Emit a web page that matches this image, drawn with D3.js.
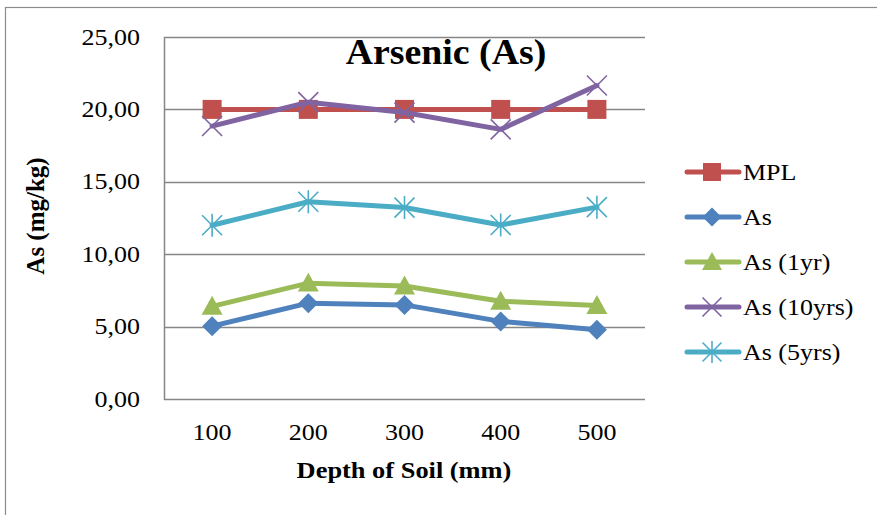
<!DOCTYPE html>
<html>
<head>
<meta charset="utf-8">
<script src="https://cdn.jsdelivr.net/npm/d3@7"></script>
<style>
  html, body { margin: 0; padding: 0; background: #fff; }
  svg text { font-family: "Liberation Serif", "Times New Roman", serif; fill: #000; }
</style>
</head>
<body>
<svg id="chart" width="877" height="515"></svg>
<script>
// Soil depth categories (mm)
const depths = ["100", "200", "300", "400", "500"];
// Arsenic concentration series (mg/kg)
const mpl      = [20.00, 20.00, 20.00, 20.00, 20.00];
const asNow    = [5.03, 6.62, 6.50, 5.36, 4.78];
const as1yr    = [6.40, 8.00, 7.80, 6.75, 6.45];
const as10yrs  = [18.85, 20.50, 19.78, 18.62, 21.65];
const as5yrs   = [12.00, 13.62, 13.22, 12.02, 13.25];
const yTicks   = [0, 5, 10, 15, 20, 25];

const series = [
  { name: "MPL",         values: mpl,     color: "#C0504D", marker: "square" },
  { name: "As",          values: asNow,   color: "#4F81BD", marker: "diamond" },
  { name: "As (1yr)",    values: as1yr,   color: "#9BBB59", marker: "triangle" },
  { name: "As (10yrs)",  values: as10yrs, color: "#8064A2", marker: "x" },
  { name: "As (5yrs)",   values: as5yrs,  color: "#4BACC6", marker: "star" }
];

const svg = d3.select("#chart");
const plotL = 164, plotR = 645, plotT = 37, plotB = 399;
const SX = 1.13; // horizontal widening applied to regular text

const x = d3.scaleBand().domain(depths).range([plotL, plotR]);
const y = d3.scaleLinear().domain([0, 25]).range([plotB, plotT]);
const fmt = v => d3.format(".2f")(v).replace(".", ",");

// Text placed at (tx, ty) with an optional horizontal stretch
function label(parent, tx, ty, str, opts) {
  const o = Object.assign({ size: 23, anchor: "start", weight: "normal", sx: SX, rotate: 0, dy: "0" }, opts);
  const tr = o.rotate
    ? `translate(${tx},${ty}) rotate(${o.rotate}) scale(1,${o.sx})`
    : `translate(${tx},${ty}) scale(${o.sx},1)`;
  return parent.append("text").attr("transform", tr)
    .attr("text-anchor", o.anchor).attr("font-size", o.size)
    .attr("font-weight", o.weight).attr("dy", o.dy).text(str);
}

// Outer chart frame
svg.append("rect").attr("x", 5.5).attr("y", 7.5).attr("width", 900).attr("height", 520)
  .attr("fill", "none").attr("stroke", "#8c8c8c").attr("stroke-width", 1.2);

// Horizontal gridlines
svg.append("g").selectAll("line").data(yTicks).join("line")
  .attr("x1", plotL).attr("x2", plotR)
  .attr("y1", d => Math.round(y(d)) + 0.5).attr("y2", d => Math.round(y(d)) + 0.5)
  .attr("stroke", "#868686").attr("stroke-width", 1.5);

// Y axis line
svg.append("line").attr("x1", plotL + 0.5).attr("x2", plotL + 0.5)
  .attr("y1", plotT).attr("y2", plotB + 1)
  .attr("stroke", "#868686").attr("stroke-width", 1.5);

// Y tick labels
const gy = svg.append("g");
yTicks.forEach(t => label(gy, plotL - 24, y(t), fmt(t), { anchor: "end", dy: "0.33em" }));

// X tick labels
const gx = svg.append("g");
depths.forEach(d => label(gx, x(d) + x.bandwidth() / 2, 440, d, { anchor: "middle" }));

// Axis titles and chart title
label(svg, 404, 478, "Depth of Soil (mm)", { size: 24, weight: "bold", anchor: "middle", sx: 1.1 });
label(svg, 44, 216, "As (mg/kg)", { size: 25, weight: "bold", anchor: "middle", rotate: -90, sx: 1 });
label(svg, 446, 64, "Arsenic (As)", { size: 36, weight: "bold", anchor: "middle", sx: 1.05 });

// Marker drawing
function drawMarker(g, type, color, size) {
  const s = size / 2;
  if (type === "square") {
    g.append("rect").attr("x", -s).attr("y", -s).attr("width", size).attr("height", size).attr("fill", color);
  } else if (type === "diamond") {
    g.append("path").attr("d", `M0,${-s}L${s},0L0,${s}L${-s},0Z`).attr("fill", color);
  } else if (type === "triangle") {
    g.append("path").attr("d", `M0,${-s}L${s},${s * 0.8}L${-s},${s * 0.8}Z`).attr("fill", color);
  } else if (type === "x") {
    g.append("path").attr("d", `M${-s},${-s}L${s},${s}M${s},${-s}L${-s},${s}`)
      .attr("stroke", color).attr("stroke-width", 1.6).attr("fill", "none");
  } else if (type === "star") {
    g.append("path").attr("d", `M${-s},${-s}L${s},${s}M${s},${-s}L${-s},${s}M0,${-s * 1.15}L0,${s * 1.15}`)
      .attr("stroke", color).attr("stroke-width", 1.6).attr("fill", "none");
  }
}

const markerSize = { square: 19, diamond: 20, triangle: 21, x: 20, star: 20 };
const line = d3.line().x((d, i) => x(depths[i]) + x.bandwidth() / 2).y(d => y(d));

series.forEach(s => {
  const g = svg.append("g");
  g.append("path").datum(s.values).attr("d", line)
    .attr("fill", "none").attr("stroke", s.color).attr("stroke-width", 5)
    .attr("stroke-linejoin", "round").attr("stroke-linecap", "round");
  s.values.forEach((v, i) => {
    const m = g.append("g").attr("transform", `translate(${x(depths[i]) + x.bandwidth() / 2},${y(v)})`);
    drawMarker(m, s.marker, s.color, markerSize[s.marker]);
  });
});

// Legend
const legend = svg.append("g");
series.forEach((s, i) => {
  const ly = 172 + i * 45;
  const g = legend.append("g").attr("transform", `translate(0,${ly})`);
  g.append("line").attr("x1", 687).attr("x2", 739).attr("y1", 0).attr("y2", 0)
    .attr("stroke", s.color).attr("stroke-width", 5).attr("stroke-linecap", "round");
  const m = g.append("g").attr("transform", "translate(712,0)");
  drawMarker(m, s.marker, s.color, markerSize[s.marker] - 1);
  label(g, 743, 0, s.name, { dy: "0.35em" });
});
</script>
</body>
</html>
